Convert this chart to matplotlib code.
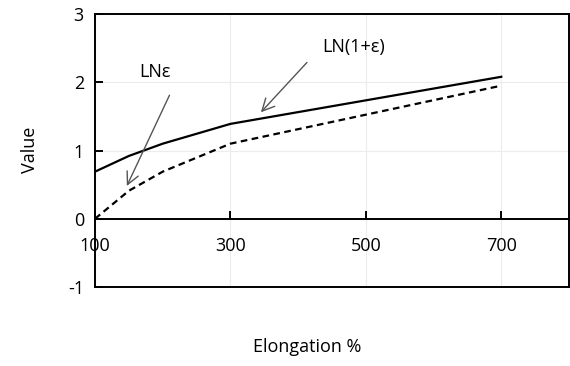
import matplotlib.pyplot as plt

plt.rcParams['font.family'] = ['Open Sans', 'DejaVu Sans']
plt.rcParams['axes.unicode_minus'] = False

# Values
elongation = [100, 150, 200, 300, 700]
ln_one_plus_eps = [0.69, 0.92, 1.10, 1.39, 2.08]
ln_eps = [0.00, 0.41, 0.69, 1.10, 1.95]
x_ticks = [100, 300, 500, 700]
y_ticks = [-1, 0, 1, 2, 3]

fs = 13

fig = plt.figure(figsize=(5.7, 3.66), dpi=100)
ax = fig.add_axes([95 / 570, 1 - 287 / 366, (569 - 95) / 570, (287 - 14) / 366])

ax.plot(elongation, ln_one_plus_eps, color='black', lw=1.6, zorder=3)
ax.plot(elongation, ln_eps, color='black', lw=1.6, linestyle=(0, (3, 2)), zorder=3)

ax.set_xlim(100, 800)
ax.set_ylim(-1, 3)
ax.set_xticks(x_ticks)
ax.set_yticks(y_ticks)
ax.grid(True, color='#ececec', lw=0.8)
ax.set_axisbelow(True)

# x axis sits on zero, box frame kept around the plot
ax.spines['bottom'].set_position(('data', 0))
for s in ax.spines.values():
    s.set_linewidth(1.4)
ax.axhline(-1, color='black', lw=1.4, clip_on=False)

ax.tick_params(axis='x', direction='in', length=6, width=1.4, pad=13, labelsize=fs)
ax.tick_params(axis='y', direction='in', length=6, width=1.4, pad=8, labelsize=fs)

# callout labels with arrows
arrow = dict(arrowstyle='->', color='#555555', lw=1.0, shrinkA=0, shrinkB=0,
             mutation_scale=22)
ax.text(188, 2.15, 'LNε', ha='center', va='center', fontsize=fs)
ax.annotate('', xy=(147, 0.48), xytext=(210, 1.81), arrowprops=arrow)
ax.text(482, 2.51, 'LN(1+ε)', ha='center', va='center', fontsize=fs)
ax.annotate('', xy=(345, 1.56), xytext=(413, 2.29), arrowprops=arrow)

fig.text(30 / 570, 1 - 150 / 366, 'Value', rotation=90, ha='center', va='center',
         fontsize=fs)
fig.text(307 / 570, 1 - 347 / 366, 'Elongation %', ha='center', va='center',
         fontsize=fs)

fig.savefig('out.png', dpi=100)
